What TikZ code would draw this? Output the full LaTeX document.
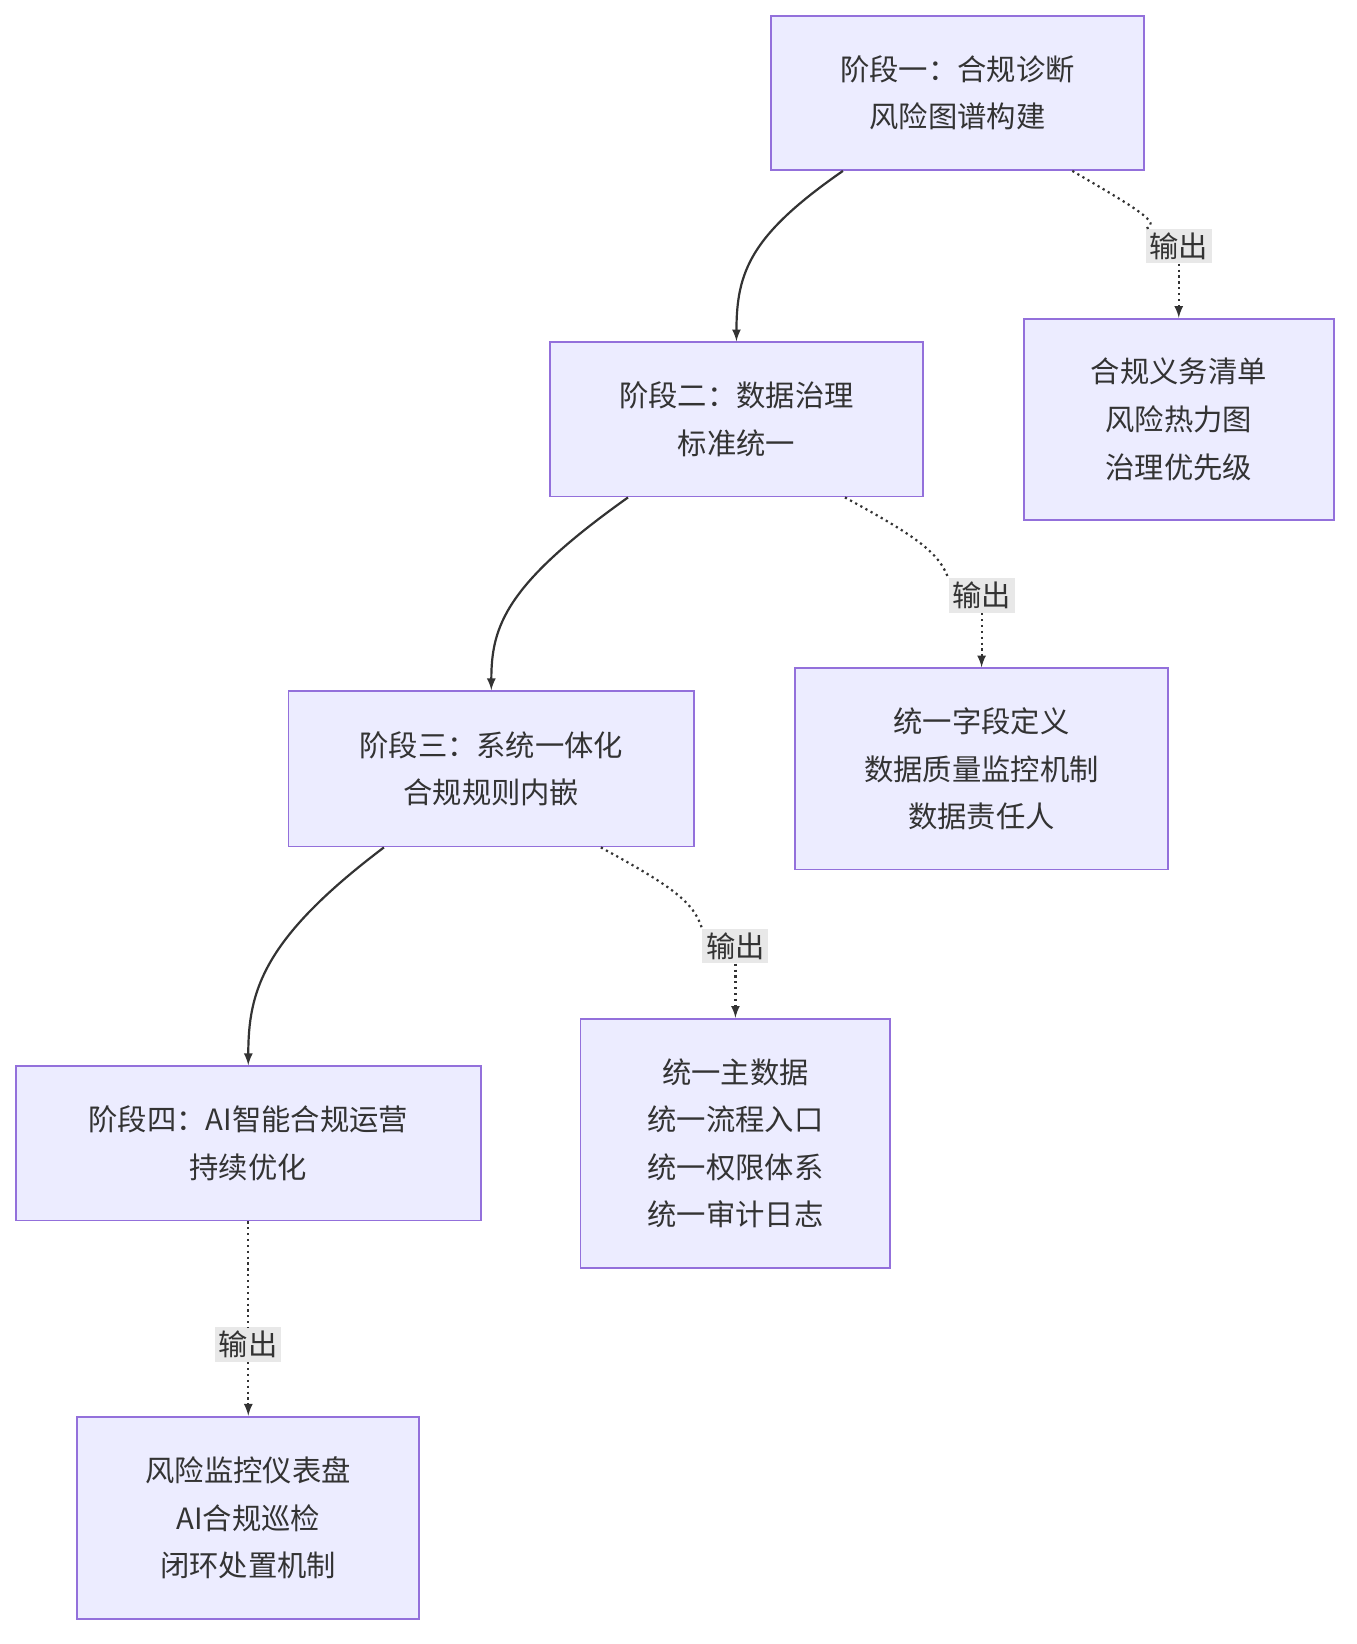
\documentclass[tikz,border=0pt]{standalone}
\usepackage{fontspec}
\setmainfont{Noto Sans CJK SC}
\usetikzlibrary{positioning}
\definecolor{boxfill}{HTML}{ECECFF}
\definecolor{boxline}{HTML}{9370DB}
\definecolor{lblfill}{HTML}{E8E8E8}
\definecolor{ink}{HTML}{333333}
\tikzset{
  stage/.style={draw=boxline,fill=boxfill,line width=1pt,align=center,inner sep=0pt,
    font=\fontsize{16}{26}\selectfont,text=ink},
  outlbl/.style={fill=lblfill,inner sep=2pt,font=\fontsize{16}{20}\selectfont,text=ink},
  flow/.style={draw=ink,line width=1.2pt,-latex},
  outp/.style={draw=ink,line width=1.2pt,dotted,-latex},
}
\begin{document}
\begin{tikzpicture}[x=0.02cm,y=-0.02cm]
	\useasboundingbox (0,0) rectangle (1300,1576);
	%stages
	\node[stage,minimum width=7.16cm,minimum height=2.96cm] (s1) at (918,89) {阶段一：合规诊断\\风险图谱构建};
	\node[stage,minimum width=7.16cm,minimum height=2.96cm] (s2) at (706,402) {阶段二：数据治理\\标准统一};
	\node[stage,minimum width=7.78cm,minimum height=2.98cm] (s3) at (471,737) {阶段三：系统一体化\\合规规则内嵌};
	\node[stage,minimum width=8.92cm,minimum height=2.96cm] (s4) at (238,1096) {阶段四：AI智能合规运营\\持续优化};
	
	%outputs
	\node[stage,minimum width=5.94cm,minimum height=3.86cm] (o1) at (1130,402) {合规义务清单\\风险热力图\\治理优先级};
	\node[stage,minimum width=7.16cm,minimum height=3.86cm] (o2) at (941,737) {统一字段定义\\数据质量监控机制\\数据责任人};
	\node[stage,minimum width=5.94cm,minimum height=4.78cm] (o3) at (705,1096) {统一主数据\\统一流程入口\\统一权限体系\\统一审计日志};
	\node[stage,minimum width=6.56cm,minimum height=3.88cm] (o4) at (238,1455) {风险监控仪表盘\\AI合规巡检\\闭环处置机制};
	
	%labels
	\node[outlbl] (l1) at (1130,236) {输出};
	\node[outlbl] (l2) at (941,571) {输出};
	\node[outlbl] (l3) at (705,907) {输出};
	\node[outlbl] (l4) at (238,1289) {输出};
	
	%stage flow
	\draw[flow] ([xshift=-2.2cm]s1.south) .. controls (720,225) and (706,260) .. (s2.north);
	\draw[flow] ([xshift=-2.08cm]s2.south) .. controls (485,560) and (471,600) .. (s3.north);
	\draw[flow] ([xshift=-2.06cm]s3.south) .. controls (252,900) and (238,950) .. (s4.north);
	
	%outputs
	\draw[outp,-] ([xshift=2.2cm]s1.south) .. controls (1090,200) and (1115,215) .. (l1.north west);
	\draw[outp] (l1.south) -- (o1.north);
	\draw[outp,-] ([xshift=2.08cm]s2.south) .. controls (880,515) and (900,530) .. (l2.north west);
	\draw[outp] (l2.south) -- (o2.north);
	\draw[outp,-] ([xshift=2.1cm]s3.south) .. controls (645,850) and (665,865) .. (l3.north west);
	\draw[outp] (l3.south) -- (o3.north);
	\draw[outp,-] (s4.south) -- (l4.north);
	\draw[outp] (l4.south) -- (o4.north);
\end{tikzpicture}
\end{document}
